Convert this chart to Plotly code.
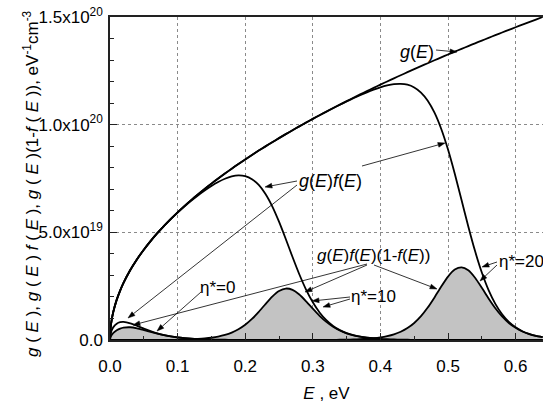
import math
import plotly.graph_objects as go

# ---------------- data (values in units of 1e19 eV^-1 cm^-3) ----------------
E_eV = [0, 0.001, 0.0025, 0.005, 0.01, 0.015, 0.02,
        0.03, 0.04, 0.05, 0.06, 0.07, 0.08, 0.09, 0.10,
        0.11, 0.12, 0.13, 0.14, 0.15, 0.16, 0.17, 0.18, 0.19, 0.20,
        0.21, 0.22, 0.23, 0.24, 0.25, 0.26, 0.27, 0.28, 0.29, 0.30,
        0.31, 0.32, 0.33, 0.34, 0.35, 0.36, 0.37, 0.38, 0.39, 0.40,
        0.41, 0.42, 0.43, 0.44, 0.45, 0.46, 0.47, 0.48, 0.49, 0.50,
        0.51, 0.52, 0.53, 0.54, 0.55, 0.56, 0.57, 0.58, 0.59, 0.60,
        0.61, 0.62, 0.63, 0.64]

g_E = [0, 0.593, 0.938, 1.326, 1.875, 2.296, 2.652,
       3.248, 3.750, 4.193, 4.593, 4.961, 5.303, 5.625, 5.929,
       6.219, 6.495, 6.760, 7.016, 7.262, 7.500, 7.731, 7.955, 8.173, 8.385,
       8.592, 8.795, 8.992, 9.186, 9.375, 9.561, 9.743, 9.922, 10.097, 10.270,
       10.440, 10.607, 10.771, 10.933, 11.093, 11.250, 11.405, 11.558, 11.709, 11.859,
       12.006, 12.151, 12.295, 12.437, 12.578, 12.717, 12.854, 12.990, 13.125, 13.258,
       13.390, 13.521, 13.650, 13.778, 13.905, 14.031, 14.156, 14.280, 14.402, 14.524,
       14.644, 14.764, 14.882, 15.000]

gf_eta0 = [0, 0.291, 0.446, 0.599, 0.759, 0.825, 0.838,
           0.776, 0.660, 0.531, 0.412, 0.312, 0.231, 0.169, 0.122,
           0.088, 0.062, 0.044, 0.031, 0.022, 0.016, 0.011, 0.008, 0.005, 0.004,
           0.003, 0.002, 0.001, 0.001, 0, 0, 0, 0, 0, 0,
           0, 0, 0, 0, 0, 0, 0, 0, 0, 0,
           0, 0, 0, 0, 0, 0, 0, 0, 0, 0,
           0, 0, 0, 0, 0, 0, 0, 0, 0, 0,
           0, 0, 0, 0]

gf1mf_eta0 = [0, 0.148, 0.234, 0.328, 0.452, 0.529, 0.573,
              0.591, 0.544, 0.464, 0.375, 0.292, 0.221, 0.164, 0.119,
              0.087, 0.062, 0.044, 0.031, 0.022, 0.016, 0.011, 0.008, 0.005, 0.004,
              0.003, 0.002, 0.001, 0.001, 0, 0, 0, 0, 0, 0,
              0, 0, 0, 0, 0, 0, 0, 0, 0, 0,
              0, 0, 0, 0, 0, 0, 0, 0, 0, 0,
              0, 0, 0, 0, 0, 0, 0, 0, 0, 0,
              0, 0, 0, 0]

gf_eta10 = [0, 0.593, 0.938, 1.326, 1.875, 2.296, 2.652,
            3.248, 3.749, 4.192, 4.592, 4.959, 5.298, 5.617, 5.916,
            6.199, 6.465, 6.714, 6.946, 7.156, 7.339, 7.490, 7.595, 7.641, 7.606,
            7.466, 7.199, 6.780, 6.206, 5.493, 4.688, 3.852, 3.053, 2.343, 1.750,
            1.279, 0.920, 0.653, 0.459, 0.321, 0.223, 0.155, 0.107, 0.074, 0.051,
            0.035, 0.024, 0.017, 0.011, 0.008, 0.006, 0.004, 0.003, 0.002, 0.001,
            0.001, 0.001, 0, 0, 0, 0, 0, 0, 0, 0,
            0, 0, 0, 0]

gf1mf_eta10 = [0, 0, 0, 0, 0, 0, 0,
               0, 0.001, 0.001, 0.002, 0.003, 0.005, 0.008, 0.013,
               0.020, 0.030, 0.046, 0.070, 0.105, 0.157, 0.234, 0.343, 0.498, 0.707,
               0.978, 1.307, 1.668, 2.013, 2.275, 2.390, 2.329, 2.114, 1.799, 1.452,
               1.122, 0.840, 0.613, 0.440, 0.312, 0.219, 0.153, 0.106, 0.074, 0.051,
               0.035, 0.024, 0.017, 0.011, 0.008, 0.006, 0.004, 0.003, 0.002, 0.001,
               0.001, 0.001, 0, 0, 0, 0, 0, 0, 0, 0,
               0, 0, 0, 0]

gf_eta20 = [0, 0.593, 0.938, 1.326, 1.875, 2.296, 2.652,
            3.248, 3.750, 4.193, 4.593, 4.961, 5.303, 5.625, 5.929,
            6.219, 6.495, 6.760, 7.016, 7.262, 7.500, 7.731, 7.955, 8.173, 8.385,
            8.592, 8.795, 8.992, 9.186, 9.375, 9.561, 9.742, 9.921, 10.095, 10.268,
            10.437, 10.602, 10.763, 10.922, 11.076, 11.225, 11.367, 11.502, 11.626, 11.736,
            11.823, 11.881, 11.897, 11.854, 11.728, 11.492, 11.112, 10.556, 9.800, 8.844,
            7.721, 6.499, 5.272, 4.128, 3.132, 2.315, 1.676, 1.195, 0.841, 0.588,
            0.408, 0.282, 0.195, 0.134]

gf1mf_eta20 = [0, 0, 0, 0, 0, 0, 0,
               0, 0, 0, 0, 0, 0, 0, 0,
               0, 0, 0, 0, 0, 0, 0, 0, 0, 0,
               0, 0, 0, 0, 0, 0, 0.001, 0.001, 0.002, 0.002,
               0.003, 0.005, 0.008, 0.011, 0.017, 0.025, 0.037, 0.056, 0.082, 0.122,
               0.180, 0.264, 0.385, 0.556, 0.792, 1.107, 1.506, 1.978, 2.482, 2.944,
               3.269, 3.375, 3.236, 2.891, 2.427, 1.933, 1.478, 1.095, 0.792, 0.564,
               0.397, 0.277, 0.193, 0.133]

UNIT = 1e19
x_ticks = [0.0, 0.1, 0.2, 0.3, 0.4, 0.5, 0.6]
y_ticks = [0, 5e19, 1e20, 1.5e20]
y_ticktext = ["0.0", "5.0x10<sup>19</sup>", "1.0x10<sup>20</sup>", "1.5x10<sup>20</sup>"]

for s in (g_E, gf_eta0, gf1mf_eta0, gf_eta10, gf1mf_eta10, gf_eta20, gf1mf_eta20):
    assert len(s) == len(E_eV)

# ---------------- layout geometry ----------------
W, H = 543, 405
ML, MR, MT, MB = 110, 0, 17, 65
PW, PH = W - ML - MR, H - MT - MB
X_MAX = 0.6405
Y_MAX = 1.5e20
FONT = "Liberation Sans, Arial, sans-serif"


def px2x(px):
    return (px - ML) / PW * X_MAX


def px2y(py):
    return (H - MB - py) / PH * Y_MAX


def scaled(vals):
    return [v * UNIT for v in vals]


fig = go.Figure()

LINE = dict(color="black", width=1.8, shape="spline", smoothing=0.6)
for ys in (gf1mf_eta0, gf1mf_eta10, gf1mf_eta20):
    fig.add_trace(go.Scatter(x=E_eV, y=scaled(ys), mode="lines", line=LINE,
                             fill="tozeroy", fillcolor="#c3c3c3",
                             showlegend=False, hoverinfo="skip"))
for ys in (gf_eta0, gf_eta10, gf_eta20, g_E):
    fig.add_trace(go.Scatter(x=E_eV, y=scaled(ys), mode="lines", line=LINE,
                             showlegend=False, hoverinfo="skip"))

# ---------------- annotations (labels + leader arrows) ----------------
ann = []
shapes = []


def label(text, cx, cy, size=17, xanchor="center"):
    ann.append(dict(x=px2x(cx), y=px2y(cy), xref="x", yref="y", text=text,
                    showarrow=False, xanchor=xanchor, yanchor="middle",
                    font=dict(family=FONT, size=size, color="black")))


def arrow(sx, sy, tx, ty, head=7.0, half=2.4):
    # leader line with a filled triangular head, built in screen pixels
    dx, dy = tx - sx, ty - sy
    n = math.hypot(dx, dy)
    ux, uy = dx / n, dy / n
    bx, by = tx - ux * head, ty - uy * head
    p1 = (bx - uy * half, by + ux * half)
    p2 = (bx + uy * half, by - ux * half)
    shapes.append(dict(type="line", xref="x", yref="y",
                       x0=px2x(sx), y0=px2y(sy), x1=px2x(bx), y1=px2y(by),
                       line=dict(color="black", width=0.8)))
    path = "M {} {} L {} {} L {} {} Z".format(
        px2x(tx), px2y(ty), px2x(p1[0]), px2y(p1[1]), px2x(p2[0]), px2y(p2[1]))
    shapes.append(dict(type="path", xref="x", yref="y", path=path,
                       fillcolor="black", line=dict(color="black", width=0.5)))


GE = "<i>g</i>(<i>E</i>)"
FE = "<i>f</i>(<i>E</i>)"
label(GE, 417, 52, 18)
arrow(436, 50, 457, 52)

label(GE + FE, 330, 181, 18)
arrow(297, 181, 265, 187)
arrow(297, 185, 128, 318)
arrow(362, 166, 445, 143)

label(GE + FE + "(1-" + FE + ")", 373, 255, 17)
arrow(367, 264, 133, 325)
arrow(367, 265, 305, 292)
arrow(374, 265, 437, 289)

label("η*=0", 217, 287, 17)
arrow(201, 292, 157, 331)

label("η*=10", 373, 296, 17)
arrow(350, 297, 312, 301)
arrow(350, 299, 323, 307)

label("η*=20", 497, 261, 17, xanchor="left")
arrow(497, 262, 482, 267)
arrow(497, 265, 480, 281)

# y-axis title as rotated annotation for exact placement
ann.append(dict(
    text="<i>g</i> ( <i>E</i> ), <i>g</i> ( <i>E</i> ) <i>f</i> ( <i>E</i> ), "
         "<i>g</i> ( <i>E</i> )(1-<i>f</i> ( <i>E</i> )), eV<sup>-1</sup>cm<sup>-3</sup>",
    xref="paper", yref="paper", x=(31 - ML) / PW, y=(H - MB - 184) / PH,
    xanchor="center", yanchor="middle", textangle=-90, showarrow=False,
    font=dict(family=FONT, size=17, color="black")))

AXIS_COMMON = dict(
    showline=True, linecolor="#222", linewidth=1.5,
    ticks="inside", ticklen=7, tickwidth=1, tickcolor="#222",
    showgrid=True, gridcolor="#8a8a8a", griddash="dot", gridwidth=1,
    zeroline=False,
    tickfont=dict(family=FONT, size=17, color="black"),
)

fig.update_layout(
    width=W, height=H,
    margin=dict(l=ML, r=MR, t=MT, b=MB, pad=0),
    paper_bgcolor="white", plot_bgcolor="white",
    font=dict(family=FONT, color="black"),
    annotations=ann,
    shapes=shapes,
    xaxis=dict(
        range=[0, X_MAX], tickmode="array", tickvals=x_ticks,
        ticktext=[f"{v:.1f}" for v in x_ticks], mirror=True,
        minor=dict(tickmode="linear", tick0=0, dtick=0.05, ticks="inside",
                   ticklen=4, tickcolor="#222", showgrid=False),
        title=dict(text="<i>E</i> , eV", standoff=12,
                   font=dict(family=FONT, size=17, color="black")),
        ticklabelstandoff=10,
        **AXIS_COMMON,
    ),
    yaxis=dict(
        range=[0, Y_MAX], tickmode="array", tickvals=y_ticks, ticktext=y_ticktext,
        mirror=False,
        minor=dict(tickmode="linear", tick0=0, dtick=1e19, ticks="inside",
                   ticklen=4, tickcolor="#222", showgrid=False),
        ticklabelstandoff=2,
        **AXIS_COMMON,
    ),
)

fig.write_html("out.html")
